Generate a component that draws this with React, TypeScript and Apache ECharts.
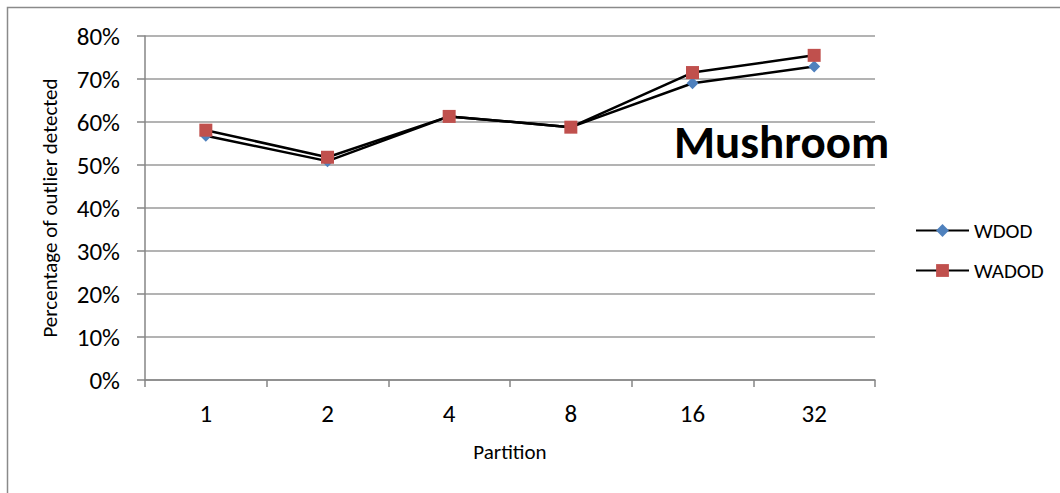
import React, { useEffect, useRef } from "react";
import * as echarts from "echarts";

// Partition counts along the x axis
const partitions = ["1", "2", "4", "8", "16", "32"];
// Percentage of outliers detected per method
const wdod = [56.8, 50.9, 61.3, 58.8, 69.0, 72.9];
const wadod = [58.1, 51.8, 61.3, 58.8, 71.5, 75.5];
const yTicks = { min: 0, max: 80, interval: 10 };

const FONT = 'Carlito, "Liberation Sans", Arial, sans-serif';
const GRID_COLOR = "#9a9a9a";
const AXIS_COLOR = "#868686";

export default function App() {
  const ref = useRef<HTMLDivElement>(null);

  useEffect(() => {
    document.body.style.margin = "0";
    if (!ref.current) return;
    const chart = echarts.init(ref.current, null, { renderer: "svg" });
    chart.setOption({
      animation: false,
      backgroundColor: "#ffffff",
      textStyle: { fontFamily: FONT },
      grid: { left: 145, right: 185, top: 36, bottom: 113 },
      legend: {
        orient: "vertical",
        left: 910,
        top: 215,
        itemWidth: 53,
        itemHeight: 16,
        itemGap: 19,
        itemStyle: { borderWidth: 0 },
        textStyle: { fontFamily: FONT, fontSize: 21, color: "#000" },
        data: ["WDOD", "WADOD"],
      },
      xAxis: {
        type: "category",
        data: partitions,
        boundaryGap: true,
        name: "Partition",
        nameLocation: "middle",
        nameGap: 61,
        nameTextStyle: { fontFamily: FONT, fontSize: 21, color: "#000" },
        axisLine: { lineStyle: { color: AXIS_COLOR, width: 1.5 } },
        axisTick: { show: true, length: 7, lineStyle: { color: AXIS_COLOR, width: 1.5 } },
        axisLabel: { fontFamily: FONT, fontSize: 25, color: "#000", margin: 21 },
      },
      yAxis: {
        type: "value",
        min: yTicks.min,
        max: yTicks.max,
        interval: yTicks.interval,
        name: "Percentage of outlier detected",
        nameLocation: "middle",
        nameGap: 85,
        nameTextStyle: { fontFamily: FONT, fontSize: 21, color: "#000" },
        axisLine: { show: true, lineStyle: { color: AXIS_COLOR, width: 1.5 } },
        axisTick: { show: true, length: 8, lineStyle: { color: AXIS_COLOR, width: 1.5 } },
        axisLabel: {
          fontFamily: FONT,
          fontSize: 25,
          color: "#000",
          margin: 25,
          formatter: "{value}%",
        },
        splitLine: { lineStyle: { color: GRID_COLOR, width: 1.5 } },
      },
      series: [
        {
          name: "WDOD",
          type: "line",
          data: wdod,
          symbol: "diamond",
          symbolSize: 12,
          itemStyle: { color: "#4F81BD" },
          lineStyle: { color: "#000", width: 2.5 },
          z: 2,
        },
        {
          name: "WADOD",
          type: "line",
          data: wadod,
          symbol: "rect",
          symbolSize: 13,
          itemStyle: { color: "#C0504D" },
          lineStyle: { color: "#000", width: 2.5 },
          z: 3,
        },
      ],
      graphic: [
        {
          type: "text",
          left: 674,
          top: 118,
          style: {
            text: "Mushroom",
            fontFamily: FONT,
            fontWeight: "bold",
            fontSize: 47,
            fill: "#000",
          },
          z: 10,
        },
        {
          type: "polyline",
          shape: { points: [[7.5, 493], [7.5, 7.5], [1060, 7.5]] },
          style: { stroke: "#8a8a8a", lineWidth: 1.5, fill: "none" },
          z: 0,
        },
      ],
    });
    return () => chart.dispose();
  }, []);

  return <div ref={ref} style={{ width: 1060, height: 493 }} />;
}
